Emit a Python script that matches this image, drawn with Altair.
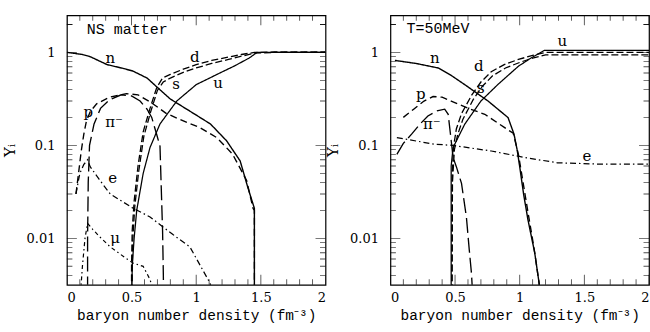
import altair as alt
import pandas as pd

# ---------------- data ----------------
YMIN, YMAX = 10 ** -2.5, 10 ** 0.4

# Left panel: NS matter
L_n_x = [0.0, 0.05, 0.12, 0.18, 0.31, 0.44, 0.51, 0.62, 0.70, 0.80, 0.95, 1.11, 1.235, 1.34, 1.40, 1.45, 1.45]
L_n_y = [1.0, 0.98, 0.95, 0.90, 0.74, 0.67, 0.63, 0.53, 0.42, 0.315, 0.234, 0.17, 0.112, 0.068, 0.035, 0.021, 0.001]
L_p_x = [0.07, 0.09, 0.11, 0.13, 0.15, 0.18, 0.23, 0.33, 0.46, 0.55, 0.65, 0.77, 0.93, 1.03, 1.16, 1.28, 1.39, 1.44, 1.45, 1.45]
L_p_y = [0.03, 0.05, 0.085, 0.13, 0.18, 0.23, 0.28, 0.33, 0.36, 0.35, 0.29, 0.22, 0.176, 0.155, 0.121, 0.081, 0.042, 0.021, 0.02, 0.001]
L_pi_x = [0.16, 0.16, 0.165, 0.175, 0.21, 0.26, 0.33, 0.42, 0.50, 0.566, 0.62, 0.656, 0.695, 0.72, 0.728, 0.74, 0.746, 0.75]
L_pi_y = [0.001, 0.01, 0.04, 0.10, 0.17, 0.25, 0.31, 0.35, 0.34, 0.30, 0.245, 0.20, 0.13, 0.098, 0.042, 0.012, 0.004, 0.001]
L_d_x = [0.50, 0.50, 0.505, 0.52, 0.55, 0.59, 0.643, 0.695, 0.74, 0.80, 0.90, 1.0, 1.12, 1.25, 1.35, 1.45, 1.6, 2.0]
L_d_y = [0.001, 0.005, 0.012, 0.025, 0.06, 0.14, 0.25, 0.42, 0.53, 0.58, 0.66, 0.74, 0.82, 0.89, 0.95, 1.0, 1.01, 1.01]
L_s_x = [0.505, 0.505, 0.51, 0.525, 0.555, 0.595, 0.648, 0.70, 0.745, 0.80, 0.90, 1.0, 1.12, 1.25, 1.35, 1.45, 1.6, 2.0]
L_s_y = [0.001, 0.004, 0.010, 0.022, 0.052, 0.125, 0.23, 0.39, 0.48, 0.53, 0.61, 0.68, 0.76, 0.84, 0.91, 0.98, 1.0, 1.0]
L_u_x = [0.50, 0.505, 0.52, 0.54, 0.59, 0.643, 0.72, 0.85, 1.0, 1.15, 1.30, 1.41, 1.47, 2.0]
L_u_y = [0.001, 0.005, 0.01, 0.02, 0.05, 0.095, 0.17, 0.30, 0.45, 0.57, 0.72, 0.87, 1.0, 1.0]
L_e_x = [0.07, 0.10, 0.13, 0.16, 0.18, 0.25, 0.335, 0.514, 0.643, 0.823, 0.951, 1.107, 1.13]
L_e_y = [0.03, 0.05, 0.062, 0.07, 0.059, 0.043, 0.030, 0.021, 0.017, 0.0109, 0.0081, 0.0033, 0.0025]
L_mu_x = [0.10, 0.12, 0.14, 0.16, 0.20, 0.25, 0.335, 0.45, 0.514, 0.59, 0.643, 0.66]
L_mu_y = [0.002, 0.005, 0.010, 0.0145, 0.0125, 0.0105, 0.0081, 0.0062, 0.0054, 0.0050, 0.0036, 0.003]

# Right panel: T = 50 MeV
R_n_x = [0.035, 0.20, 0.37, 0.475, 0.575, 0.755, 0.91, 0.956, 0.98, 1.0, 1.03, 1.064, 1.116, 1.15, 1.16]
R_n_y = [0.82, 0.76, 0.68, 0.56, 0.45, 0.30, 0.199, 0.132, 0.09, 0.059, 0.03, 0.0158, 0.007, 0.0033, 0.002]
R_p_x = [0.10, 0.18, 0.26, 0.33, 0.40, 0.47, 0.52, 0.62, 0.73, 0.884, 0.95, 0.99, 1.02, 1.07, 1.11, 1.15, 1.16]
R_p_y = [0.20, 0.245, 0.30, 0.335, 0.33, 0.30, 0.28, 0.245, 0.216, 0.155, 0.135, 0.08, 0.045, 0.017, 0.008, 0.0033, 0.002]
R_pi_x = [0.05, 0.10, 0.164, 0.23, 0.29, 0.36, 0.42, 0.447, 0.465, 0.485, 0.51, 0.55, 0.588, 0.61, 0.627, 0.64]
R_pi_y = [0.08, 0.105, 0.132, 0.17, 0.207, 0.235, 0.245, 0.216, 0.13, 0.074, 0.059, 0.039, 0.0168, 0.0075, 0.0042, 0.002]
R_d_x = [0.475, 0.478, 0.49, 0.51, 0.55, 0.63, 0.70, 0.78, 0.88, 0.99, 1.1, 1.2, 2.0]
R_d_y = [0.001, 0.05, 0.10, 0.15, 0.22, 0.35, 0.48, 0.62, 0.74, 0.84, 0.93, 1.0, 1.0]
R_s_x = [0.475, 0.48, 0.495, 0.52, 0.56, 0.64, 0.71, 0.79, 0.89, 1.0, 1.1, 1.2, 2.0]
R_s_y = [0.001, 0.04, 0.09, 0.13, 0.19, 0.31, 0.43, 0.56, 0.68, 0.78, 0.87, 0.94, 0.94]
R_u_x = [0.47, 0.47, 0.485, 0.575, 0.70, 0.83, 0.99, 1.09, 1.19, 2.0]
R_u_y = [0.001, 0.06, 0.095, 0.169, 0.30, 0.45, 0.71, 0.875, 1.05, 1.05]
R_e_x = [0.05, 0.34, 0.48, 0.78, 1.04, 1.29, 1.6, 2.0]
R_e_y = [0.121, 0.103, 0.10, 0.087, 0.074, 0.065, 0.063, 0.063]

# in-plot labels
L_lab_t = ["n", "d", "s", "u", "p", "π⁻", "e", "μ"]
L_lab_x = [0.335, 0.99, 0.845, 1.17, 0.165, 0.365, 0.354, 0.373]
L_lab_y = [0.87, 0.89, 0.46, 0.474, 0.229, 0.179, 0.0443, 0.0102]
R_lab_t = ["n", "d", "s", "u", "p", "π⁻", "e"]
R_lab_x = [0.344, 0.683, 0.70, 1.33, 0.235, 0.32, 1.52]
R_lab_y = [0.875, 0.71, 0.41, 1.32, 0.356, 0.17, 0.077]

X_TICKS = [round(0.1 * k, 1) for k in range(21)]
X_LABELS = [0, 0.5, 1, 1.5, 2]
Y_TICKS = [k * 10.0 ** e for e in range(-3, 1) for k in range(1, 10)] + [2.0]
Y_TICKS = [v for v in Y_TICKS if YMIN <= v <= YMAX]
Y_LABELS = [0.01, 0.1, 1]

SPECIES = ["n", "p", "pi", "d", "s", "u", "e", "mu"]
DASHES = [[1, 0], [7, 4], [15, 5], [7, 3], [7, 3], [1, 0], [6, 3, 1.5, 3], [4, 3, 1.5, 3]]
WIDTHS = [1.4, 1.2, 1.2, 1.0, 1.0, 0.9, 0.9, 0.9]

FONT = "DejaVu Serif"
MONO = "Liberation Mono"
W, H = 259, 270

XAXIS = alt.Axis(values=X_LABELS, format="~g", ticks=False, domain=False, grid=False,
                 labelPadding=7, title="baryon number density  (fm⁻³)", titlePadding=4,
                 titleFont=MONO, titleFontSize=14.5)
YAXIS = alt.Axis(values=Y_LABELS, format="~g", ticks=False, domain=False, grid=False,
                 labelPadding=12, title="Yᵢ", titlePadding=9)


def build_panel(series, lab_t, lab_x, lab_y, tag):
    rows = []
    for sp, (xs_, ys_) in series.items():
        for i, (xv, yv) in enumerate(zip(xs_, ys_)):
            rows.append({"sp": sp, "x": xv, "y": yv, "i": i})
    df = pd.DataFrame(rows)
    xsc = alt.Scale(domain=[0, 2], nice=False, zero=False)
    ysc = alt.Scale(type="log", domain=[YMIN, YMAX], nice=False)

    lines = alt.Chart(df).mark_line(clip=True, color="black").encode(
        x=alt.X("x:Q", scale=xsc, axis=XAXIS),
        y=alt.Y("y:Q", scale=ysc, axis=YAXIS),
        detail="sp:N",
        order="i:Q",
        strokeDash=alt.StrokeDash("sp:N", scale=alt.Scale(domain=SPECIES, range=DASHES), legend=None),
        strokeWidth=alt.StrokeWidth("sp:N", scale=alt.Scale(domain=SPECIES, range=WIDTHS), legend=None),
    )

    xt = pd.DataFrame({"v": X_TICKS})
    yt = pd.DataFrame({"v": Y_TICKS})
    xlen = "abs(datum.v*2 - round(datum.v*2)) < 1e-6 ? 20 : 11"
    ylen = "abs(log(datum.v)/log(10) - round(log(datum.v)/log(10))) < 1e-6 ? 20 : 11"

    def xticks(ypos):
        return alt.Chart(xt).transform_calculate(len=xlen).mark_tick(
            clip=True, color="black", thickness=0.9).encode(
            x=alt.X("v:Q", scale=xsc, axis=XAXIS), y=alt.value(ypos),
            size=alt.Size("len:Q", scale=None))

    def yticks(xpos):
        return alt.Chart(yt).transform_calculate(len=ylen).mark_tick(
            clip=True, color="black", thickness=0.9).encode(
            y=alt.Y("v:Q", scale=ysc, axis=YAXIS), x=alt.value(xpos),
            size=alt.Size("len:Q", scale=None))

    labs = pd.DataFrame({"t": lab_t, "lx": lab_x, "ly": lab_y})
    text = alt.Chart(labs).mark_text(font=FONT, fontSize=15, color="black").encode(
        x=alt.X("lx:Q", scale=xsc, axis=XAXIS),
        y=alt.Y("ly:Q", scale=ysc, axis=YAXIS),
        text="t:N")

    tg = pd.DataFrame({"t": [tag[0]], "lx": [tag[1]], "ly": [tag[2]]})
    tag_text = alt.Chart(tg).mark_text(font=MONO, fontSize=15, color="black", align="left").encode(
        x=alt.X("lx:Q", scale=xsc, axis=XAXIS),
        y=alt.Y("ly:Q", scale=ysc, axis=YAXIS),
        text="t:N")

    return alt.layer(lines, xticks(H), xticks(0), yticks(0), yticks(W), text, tag_text).properties(
        width=W, height=H)


left = build_panel(
    {"n": (L_n_x, L_n_y), "p": (L_p_x, L_p_y), "pi": (L_pi_x, L_pi_y), "d": (L_d_x, L_d_y),
     "s": (L_s_x, L_s_y), "u": (L_u_x, L_u_y), "e": (L_e_x, L_e_y), "mu": (L_mu_x, L_mu_y)},
    L_lab_t, L_lab_x, L_lab_y, ("NS matter", 0.154, 1.78))
right = build_panel(
    {"n": (R_n_x, R_n_y), "p": (R_p_x, R_p_y), "pi": (R_pi_x, R_pi_y), "d": (R_d_x, R_d_y),
     "s": (R_s_x, R_s_y), "u": (R_u_x, R_u_y), "e": (R_e_x, R_e_y)},
    R_lab_t, R_lab_x, R_lab_y, ("T=50MeV", 0.125, 1.84))

chart = alt.hconcat(left, right, spacing=65, bounds="flush").configure(
    padding={"left": 1, "top": 14, "right": 0, "bottom": 2},
    background="white",
).configure_view(stroke="black", strokeWidth=1.2).configure_axis(
    labelFont=FONT, labelFontSize=13, labelColor="black",
    titleFont=FONT, titleFontSize=15, titleFontWeight="normal", titleColor="black",
)

chart.save("out.html", embed_options={"renderer": "svg", "actions": False})
